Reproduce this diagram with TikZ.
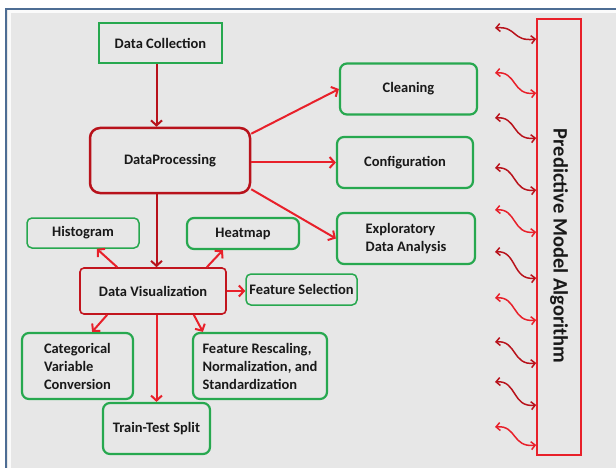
\documentclass[tikz,border=0pt]{standalone}
\usepackage{fontspec}
\setmainfont{Carlito}
\usetikzlibrary{arrows.meta}

\definecolor{boxgreen}{HTML}{27A84F}
\definecolor{deepred}{HTML}{B8121B}
\definecolor{brightred}{HTML}{E8202A}
\definecolor{paper}{HTML}{E7E7E7}
\definecolor{frameblue}{HTML}{4E6D94}

\tikzset{
  box/.style={font=\fontsize{14.5}{18}\selectfont\bfseries, text=black!90, inner sep=0pt, align=center},
  greenbox/.style={box, draw=boxgreen, line width=2.2pt, rounded corners=7pt},
  greenthin/.style={box, draw=boxgreen, line width=1.5pt, rounded corners=5pt},
  flow/.style={-{Straight Barb[length=5pt,width=11pt]}, line width=2pt, brightred},
  link/.style={{Straight Barb[length=4pt,width=8pt]}-{Straight Barb[length=4pt,width=8pt]}, line width=1.5pt},
}

\begin{document}
\begin{tikzpicture}[x=1pt, y=-1pt]
    \useasboundingbox (0,0) rectangle (616,468);
    \clip (0,0) rectangle (616,468);

    % sheet
    \fill[white] (0,0) rectangle (616,468);
    \fill[paper] (6,9) rectangle (630,480);
    \draw[white!85!paper, line width=3pt] (9,12) rectangle (630,480);
    \draw[frameblue, line width=1.5pt] (6,9) rectangle (630,480);

    % boxes
    \node[greenbox, sharp corners, minimum width=123pt, minimum height=40pt] (collect) at (160.5,43) {Data Collection};
    \node[box, draw=deepred, line width=2.5pt, rounded corners=10pt, minimum width=160pt, minimum height=65pt] (proc) at (170,160.5) {DataProcessing};
    \node[greenbox, minimum width=137pt, minimum height=51pt] (clean) at (408.5,89) {Cleaning};
    \node[greenbox, minimum width=136pt, minimum height=51pt] (config) at (405,162.5) {Configuration};
    \node[greenbox, align=left, minimum width=138pt, minimum height=51pt] (eda) at (406,238.5) {Exploratory\\Data Analysis};
    \node[greenthin, minimum width=112pt, minimum height=30pt] (hist) at (83,233) {Histogram};
    \node[greenbox, minimum width=112pt, minimum height=31pt] (heat) at (243,233.5) {Heatmap};
    \node[box, draw=deepred!80!brightred, line width=1.6pt, rounded corners=4pt, minimum width=146pt, minimum height=46pt] (visual) at (153,291) {Data Visualization};
    \node[greenthin, minimum width=111pt, minimum height=31pt] (featsel) at (301.5,289.5) {Feature Selection};
    \node[greenbox, align=left, minimum width=111pt, minimum height=66pt] (categ) at (77.5,366) {Categorical\\Variable\\Conversion};
    \node[greenbox, align=left, minimum width=134pt, minimum height=66pt] (rescale) at (260,366) {Feature Rescaling,\\Normalization, and\\Standardization};
    \node[greenbox, minimum width=107pt, minimum height=51pt] (split) at (156.5,428.5) {Train-Test Split};
    % rotated: its south side faces the links
    \node[draw=brightred, line width=1.6pt, minimum width=436pt, minimum height=44pt, font=\fontsize{20.5}{24}\selectfont\bfseries, text=black!90, rotate=-90] (predict) at (559,237) {\hspace*{18pt}Predictive Model Algorithm};

    % main flow
    \draw[flow, deepred] (collect.south -| split) -- (proc.north -| split);
    \draw[flow] ([yshift=-7pt]proc.north east) -- (clean.west);
    \draw[flow] (proc.east |- config.west) -- (config.west);
    \draw[flow] ([yshift=5pt]proc.south east) -- (eda.west);
    \draw[flow, deepred] (proc.south -| split) -- (visual.north -| split);

    % branches of the visualization step
    \draw[flow] ([xshift=38pt]visual.north west) -- ([xshift=-43pt]hist.south east);
    \draw[flow] ([xshift=-20pt]visual.north east) -- ([xshift=37pt]heat.south west);
    \draw[flow] (visual.east) -- (visual.east -| featsel.west);
    \draw[flow] ([xshift=28pt]visual.south west) -- ([xshift=-42pt]categ.north east);
    \draw[flow] ([xshift=-33pt]visual.south east) -- ([xshift=11pt]rescale.north west);
    \draw[flow] (visual.south -| split) -- (split.north);

    % wavy links into the model
    \foreach \ya/\yb/\col [count=\i] in {28/39/deepred, 73/93/brightred, 118/138/deepred, 168/190/deepred,
        210/232/brightred, 252/278/deepred, 298/320/brightred, 342/363/deepred, 382/405/deepred, 427/445/brightred} {
        \coordinate (w\i) at (495,\ya);
        \draw[link, \col] (w\i) .. controls (517,\ya-2) and (512,\yb+3) .. (predict.south |- 0,\yb);
    }
\end{tikzpicture}
\end{document}
